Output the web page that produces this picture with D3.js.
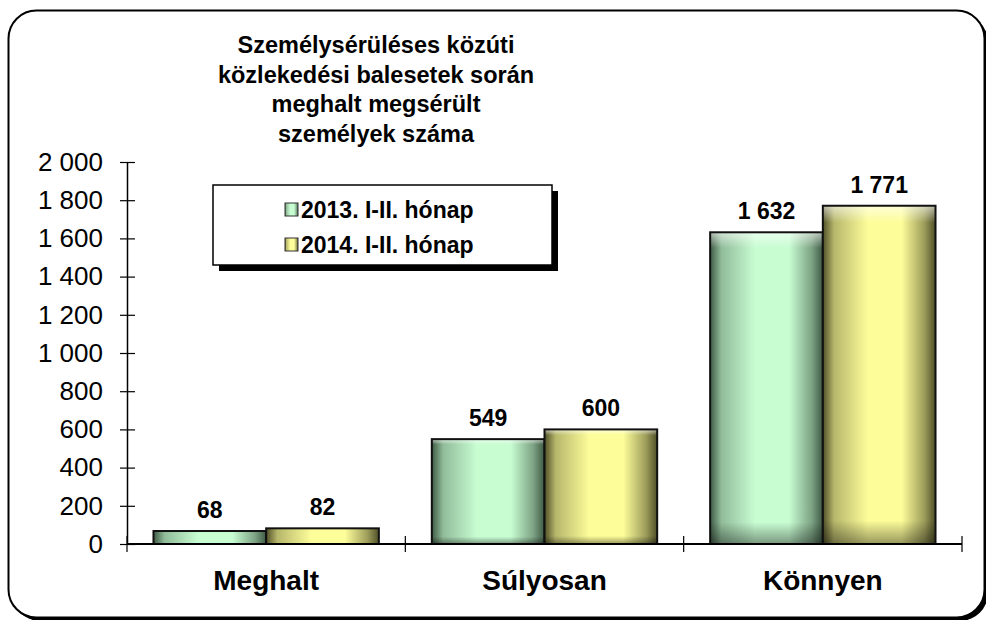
<!DOCTYPE html>
<html>
<head>
<meta charset="utf-8">
<script src="https://cdn.jsdelivr.net/npm/d3@7"></script>
<style>
  body { margin: 0; background: #fff; }
  svg { font-family: "Liberation Sans", Arial, sans-serif; }
</style>
</head>
<body>
<svg id="chart" width="986" height="620"></svg>
<script>
// adatok
var categories = ["Meghalt", "Súlyosan", "Könnyen"];
var seriesNames = ["2013. I-II. hónap", "2014. I-II. hónap"];
var values2013 = [68, 549, 1632];
var values2014 = [82, 600, 1771];
var yTicks = [0, 200, 400, 600, 800, 1000, 1200, 1400, 1600, 1800, 2000];
var titleLines = ["Személysérüléses közúti", "közlekedési balesetek során", "meghalt megsérült", "személyek száma"];

var svg = d3.select("#chart"),
    margin = {top: 162, left: 127, right: 24, bottom: 76},
    width = 986 - margin.left - margin.right,
    height = 620 - margin.top - margin.bottom;

var fmt = d => d3.format(",")(d).replace(/,/g, " ");

var defs = svg.append("defs");

// színek: sötét szél, világos közép
var palette = [
  {id: "g0", edge: "#3f5a45", mid: "#c8fdd2"},
  {id: "g1", edge: "#4f4f28", mid: "#fdfd9a"}
];
palette.forEach(p => {
  var g = defs.append("linearGradient").attr("id", p.id)
    .attr("x1", 0).attr("x2", 1).attr("y1", 0).attr("y2", 0);
  g.append("stop").attr("offset", "0%").attr("stop-color", p.edge);
  g.append("stop").attr("offset", "10%").attr("stop-color", d3.interpolateRgb(p.edge, p.mid)(0.6));
  g.append("stop").attr("offset", "40%").attr("stop-color", p.mid);
  g.append("stop").attr("offset", "70%").attr("stop-color", p.mid);
  g.append("stop").attr("offset", "90%").attr("stop-color", d3.interpolateRgb(p.edge, p.mid)(0.45));
  g.append("stop").attr("offset", "100%").attr("stop-color", p.edge);
});
var bev = defs.append("linearGradient").attr("id", "bevel")
  .attr("x1", 0).attr("x2", 0).attr("y1", 0).attr("y2", 1);
bev.append("stop").attr("offset", "0%").attr("stop-color", "#fff").attr("stop-opacity", 0.6);
bev.append("stop").attr("offset", "5%").attr("stop-color", "#fff").attr("stop-opacity", 0);
bev.append("stop").attr("offset", "93%").attr("stop-color", "#000").attr("stop-opacity", 0);
bev.append("stop").attr("offset", "100%").attr("stop-color", "#000").attr("stop-opacity", 0.4);

// keret árnyékkal
svg.append("rect")
  .attr("x", 12).attr("y", 14).attr("width", 976).attr("height", 607)
  .attr("rx", 28).attr("fill", "#000");
svg.append("rect")
  .attr("x", 8.5).attr("y", 10.5).attr("width", 976).attr("height", 607)
  .attr("rx", 28).attr("fill", "#fff").attr("stroke", "#000").attr("stroke-width", 2);

// cím
svg.append("text")
  .attr("x", 376).attr("y", 53)
  .attr("text-anchor", "middle")
  .style("font-weight", "bold").style("font-size", "23.5px")
  .selectAll("tspan").data(titleLines).join("tspan")
  .attr("x", 376).attr("dy", (d, i) => i ? 29.5 : 0)
  .text(d => d);

var container = svg.append("g")
  .attr("transform", "translate(" + margin.left + "," + margin.top + ")");

var x0 = d3.scaleBand().domain(categories).range([0, width]).padding(0);
var x1 = d3.scaleBand().domain([0, 1]).range([0, x0.bandwidth()]).paddingInner(0).paddingOuter(0.235);
var y = d3.scaleLinear().domain([0, 2000]).range([height, 0]);

var rows = categories.map((c, i) => ({cat: c, vals: [values2013[i], values2014[i]]}));

var groups = container.selectAll("g.cat").data(rows).join("g")
  .attr("class", "cat")
  .attr("transform", d => "translate(" + x0(d.cat) + ",0)");

var bars = groups.selectAll("g.bar").data(d => d.vals.map((v, s) => ({v: v, s: s}))).join("g")
  .attr("class", "bar");

bars.append("rect")
  .attr("x", d => x1(d.s))
  .attr("y", d => y(d.v))
  .attr("width", x1.bandwidth())
  .attr("height", d => y(0) - y(d.v))
  .attr("fill", d => "url(#" + palette[d.s].id + ")");
bars.append("rect")
  .attr("x", d => x1(d.s))
  .attr("y", d => y(d.v))
  .attr("width", x1.bandwidth())
  .attr("height", d => y(0) - y(d.v))
  .attr("fill", "url(#bevel)")
  .attr("stroke", "#111").attr("stroke-width", 2);

bars.append("text")
  .attr("x", d => x1(d.s) + x1.bandwidth() / 2)
  .attr("y", d => y(d.v) - 13)
  .attr("text-anchor", "middle")
  .style("font-weight", "bold").style("font-size", "23px")
  .text(d => fmt(d.v));

// tengelyek
var yAxis = container.append("g")
  .call(d3.axisLeft(y).tickValues(yTicks).tickSize(0).tickPadding(24).tickFormat(fmt));
yAxis.select(".domain").attr("stroke", "#000").attr("stroke-width", 1.5);
yAxis.selectAll(".tick line").attr("x1", -7).attr("x2", 8).attr("stroke", "#000").attr("stroke-width", 1.2);
yAxis.selectAll(".tick text").style("font-size", "26px").attr("fill", "#000");

var xAxis = container.append("g")
  .attr("transform", "translate(0," + height + ")");
xAxis.append("line").attr("x1", 0).attr("x2", width).attr("stroke", "#000").attr("stroke-width", 2);
xAxis.selectAll("line.tk").data(categories.concat(["end"])).join("line")
  .attr("class", "tk")
  .attr("x1", (d, i) => i < categories.length ? x0(d) : width)
  .attr("x2", (d, i) => i < categories.length ? x0(d) : width)
  .attr("y1", -8).attr("y2", 8)
  .attr("stroke", "#000").attr("stroke-width", 1.2);
xAxis.selectAll("text").data(categories).join("text")
  .attr("x", d => x0(d) + x0.bandwidth() / 2)
  .attr("y", 46)
  .attr("text-anchor", "middle")
  .style("font-weight", "bold").style("font-size", "28px")
  .text(d => d);

// jelmagyarázat
var legend = svg.append("g").attr("transform", "translate(213,185)");
legend.append("rect").attr("x", 6).attr("y", 6).attr("width", 339).attr("height", 80).attr("fill", "#000");
legend.append("rect").attr("x", 0).attr("y", 0).attr("width", 339).attr("height", 80)
  .attr("fill", "#fff").attr("stroke", "#000").attr("stroke-width", 1.5);
var items = legend.selectAll("g.item").data(seriesNames).join("g")
  .attr("class", "item")
  .attr("transform", (d, i) => "translate(72," + (25 + i * 35) + ")");
items.append("rect").attr("x", 0).attr("y", -7).attr("width", 13).attr("height", 13)
  .attr("fill", (d, i) => "url(#" + palette[i].id + ")")
  .attr("stroke", "#333").attr("stroke-width", 1);
items.append("text").attr("x", 16).attr("y", 8)
  .style("font-weight", "bold").style("font-size", "23px")
  .text(d => d);
</script>
</body>
</html>
